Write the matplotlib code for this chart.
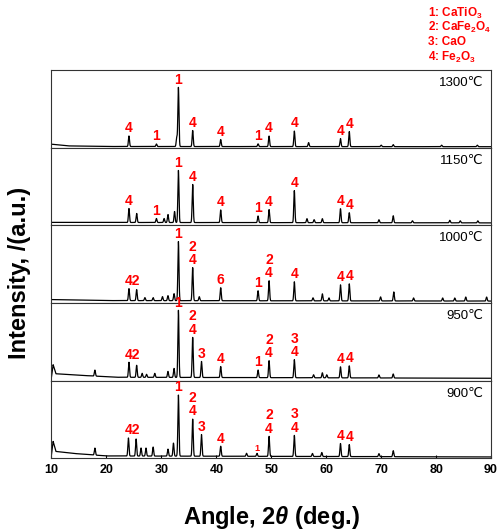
import numpy as np
import matplotlib
matplotlib.use('Agg')
import matplotlib.pyplot as plt

plt.rcParams['font.family'] = ['Liberation Sans', 'DejaVu Sans']
plt.rcParams['mathtext.fontset'] = 'custom'
plt.rcParams['mathtext.rm'] = 'Liberation Sans:bold'
plt.rcParams['mathtext.bf'] = 'Liberation Sans:bold'
plt.rcParams['mathtext.it'] = 'Liberation Sans:bold:italic'

# Panel names, top to bottom
temps = ['1300℃', '1150℃', '1000℃', '950℃', '900℃']

# Peak positions (2theta) and heights above baseline
pos_1300 = [24.1, 29.1, 32.8, 33.1, 35.7, 40.8, 47.6, 49.6, 54.2, 56.8, 62.6, 64.2, 70.0, 72.2, 81.0, 87.5]
int_1300 = [10.5, 2.5, 9, 59, 16, 7, 2.7, 10.5, 15.5, 4, 8, 15, 1.5, 2, 1.5, 1.5]

pos_1150 = [24.1, 25.5, 29.1, 30.5, 31.2, 32.4, 33.1, 35.7, 40.8, 47.6, 49.6, 54.2,
            56.5, 57.8, 59.3, 62.6, 64.2, 69.6, 72.2, 75.7, 82.5, 84.4, 87.6]
int_1150 = [14, 9, 4, 4, 8, 11, 52, 38, 12.6, 6.6, 13, 32,
            4, 3, 4, 14, 10, 3, 7, 2, 2.5, 2, 2]

pos_1000 = [24.1, 25.5, 27.0, 28.5, 30.2, 31.2, 32.3, 33.1, 35.7, 36.9, 40.8, 47.6, 49.6,
            54.2, 57.6, 59.3, 60.5, 62.6, 64.2, 69.9, 72.3, 75.9, 81.2, 83.4, 85.4, 89.2]
int_1000 = [12, 11, 3, 3, 4, 5, 7, 59, 33, 4, 13, 10, 20,
            19, 3, 7, 3, 16, 17, 4, 9, 3, 3, 3, 4, 4]

pos_950 = [17.9, 24.1, 25.5, 26.5, 27.3, 28.8, 31.2, 32.3, 33.1, 35.7, 37.3, 40.8, 47.6,
           49.6, 54.2, 57.7, 59.3, 60.1, 62.6, 64.2, 69.6, 72.2]
int_950 = [6, 15, 12, 4, 3, 4, 6, 9, 67, 40, 16, 11, 7.6,
           17, 18, 3, 5, 3, 11, 12, 3, 4]

pos_900 = [17.9, 24.0, 25.4, 26.3, 27.2, 28.5, 31.2, 32.2, 33.1, 35.7, 37.3, 40.8, 45.5, 47.4,
           49.6, 54.2, 57.5, 59.2, 62.6, 64.2, 69.6, 72.2]
int_900 = [7, 18, 17, 8, 8, 9, 7, 13, 61, 37, 21.6, 10, 3, 3,
           20, 21, 3, 4, 13, 12, 3, 6]

# Baseline knots per panel
bx_1300, by_1300 = [10, 13, 20, 90], [3.5, 1.8, 1.2, 1.0]
bx_1150, by_1150 = [10, 90], [3.0, 2.5]
bx_1000, by_1000 = [10, 20, 90], [3.5, 2.5, 2.0]
bx_950, by_950 = [10, 10.3, 10.8, 15, 22, 90], [4, 16, 7, 5.5, 3.5, 2.5]
bx_900, by_900 = [10, 10.3, 10.8, 14, 20, 90], [4, 17, 7, 5, 2.5, 1.5]

# Phase labels (position, text)
lab_1300 = [(24.1, '4'), (29.1, '1'), (33.1, '1'), (35.7, '4'), (40.8, '4'), (47.6, '1'),
            (49.6, '4'), (54.2, '4'), (62.6, '4'), (64.2, '4')]
lab_1150 = list(lab_1300)
lab_1000 = [(24.8, '42'), (33.1, '1'), (35.7, '2\n4'), (40.8, '6'), (47.6, '1'),
            (49.6, '2\n4'), (54.2, '4'), (62.6, '4'), (64.2, '4')]
lab_950 = [(24.8, '42'), (33.1, '1'), (35.7, '2\n4'), (37.3, '3'), (40.8, '4'), (47.6, '1'),
           (49.6, '2\n4'), (54.2, '3\n4'), (62.6, '4'), (64.2, '4')]
lab_900 = [(24.8, '42'), (33.1, '1'), (35.7, '2\n4'), (37.3, '3'), (40.8, '4'), (47.4, '1'),
           (49.6, '2\n4'), (54.2, '3\n4'), (62.6, '4'), (64.2, '4')]

legend_lines = ['1: CaTiO$_3$', '2: CaFe$_2$O$_4$', '3: CaO', '4: Fe$_2$O$_3$']

panels = [
    (pos_1300, int_1300, bx_1300, by_1300, lab_1300),
    (pos_1150, int_1150, bx_1150, by_1150, lab_1150),
    (pos_1000, int_1000, bx_1000, by_1000, lab_1000),
    (pos_950, int_950, bx_950, by_950, lab_950),
    (pos_900, int_900, bx_900, by_900, lab_900),
]

fig = plt.figure(figsize=(4.99, 5.30), dpi=100)
gs = fig.add_gridspec(5, 1, left=0.1032, right=0.984, top=0.8679, bottom=0.135, hspace=0)

x = np.arange(10, 90.001, 0.01)
for i, (pos, hts, bx, by, labs) in enumerate(panels):
    ax = fig.add_subplot(gs[i])
    y = np.interp(x, bx, by)
    for p, h in zip(pos, hts):
        y = y + h * np.exp(-0.5 * ((x - p) / 0.1) ** 2)
    ax.plot(x, y, color='black', lw=0.9)
    ax.set_xlim(10, 90)
    ax.set_ylim(0, 77.6)
    ax.set_yticks([])
    for s in ax.spines.values():
        s.set_color('#333333')
        s.set_linewidth(0.8)
    ax.text(0.982, 0.91, temps[i], transform=ax.transAxes, ha='right', va='top', fontsize=9.5)

    for lx, txt in labs:
        yy = y[np.abs(x - lx) <= 0.8].max()
        small = (i == 4 and txt == '1' and lx > 45)  # tiny "1" in the 900 pattern
        ax.annotate(txt, (lx, yy), xytext=(0, 0.5), textcoords='offset points',
                    ha='center', va='bottom', color='red', fontweight='bold',
                    fontsize=6.5 if small else 10, linespacing=0.95,
                    annotation_clip=False)

    if i < 4:
        ax.set_xticks([])
    else:
        ax.set_xticks(np.arange(10, 91, 10))
        ax.tick_params(axis='x', direction='in', length=2.5, pad=4, labelsize=9)
        for t in ax.get_xticklabels():
            t.set_fontweight('bold')
        ax.set_xlabel('Angle, $\\mathit{2\\theta}$ (deg.)', fontsize=17, fontweight='bold', labelpad=20)

fig.text(0.04, 0.485, 'Intensity, /(a.u.)', rotation=90, ha='center', va='center',
         fontsize=17, fontweight='bold')

for k, line in enumerate(legend_lines):
    fig.text(0.858, 1 - (13 + 14.7 * k) / 530, line, ha='left', va='center',
             color='red', fontsize=8.5, fontweight='bold')

fig.savefig('out.png', dpi=100)
